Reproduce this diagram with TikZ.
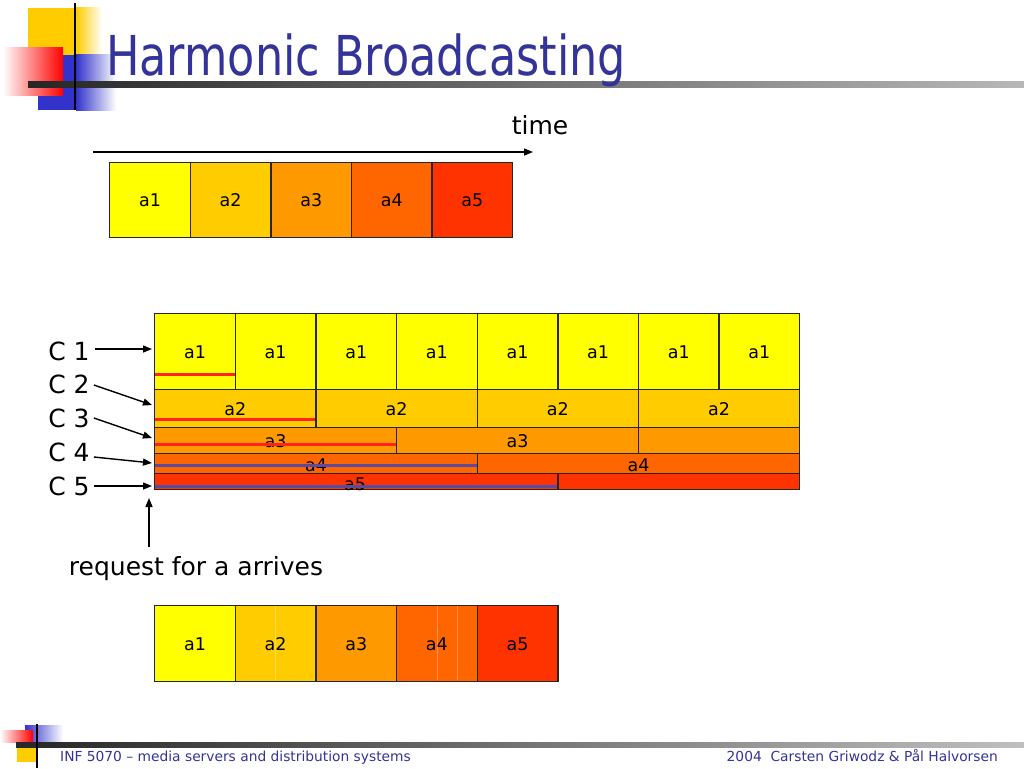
\documentclass[tikz,border=0pt]{standalone}
\usepackage{fontspec}
\setmainfont{DejaVu Sans}
\newfontfamily\titlefont{DejaVu Sans Condensed}
\usetikzlibrary{arrows.meta}
\definecolor{cA}{HTML}{FFFF00}
\definecolor{cB}{HTML}{FFCC00}
\definecolor{cC}{HTML}{FF9900}
\definecolor{cD}{HTML}{FF6600}
\definecolor{cE}{HTML}{FF3300}
\definecolor{titleblue}{HTML}{333399}
\definecolor{logoyellow}{HTML}{FFCC00}
\definecolor{logoblue}{HTML}{3333CC}
\definecolor{redline}{HTML}{FF2222}
\definecolor{blueline}{HTML}{5A4AA0}
\begin{document}
\begin{tikzpicture}[x=1pt,y=-1pt,
  cell/.style={draw=black!85,line width=1.4pt,inner sep=0pt,anchor=north west},
  lab/.style={font=\fontsize{17.5}{20}\selectfont,inner sep=0pt,text height=13pt,text depth=0pt},
  big/.style={font=\fontsize{25}{30}\selectfont,inner sep=0pt},
  arr/.style={line width=1.4pt,-{Triangle[length=9pt,width=7pt]}},
  playline/.style={line width=3.5pt}]
\useasboundingbox (0,0) rectangle (1024,768);
% ---- header logo ----
\fill[logoyellow] (28,8) rectangle (76,55);
\shade[left color=logoyellow,right color=white] (76,8) rectangle (102,55);
\fill[logoblue] (38,55) rectangle (76,110);
\shade[left color=logoblue,right color=white] (76,55) rectangle (116,110);
\shade[left color=white,right color=red] (3,48) rectangle (63,95);
\shade[left color=black!85,right color=black!28] (28,81) rectangle (1024,87);
\draw[line width=2.5pt] (75,3) -- (75,110);
\node[anchor=base west,inner sep=0pt,text=titleblue,font=\titlefont\fontsize{55}{62}\selectfont] (title) at (106,75) {\scalebox{0.9}[1]{Harmonic Broadcasting}};
% ---- time axis ----
\coordinate (t0) at (93,152);
\coordinate (t1) at (533,152);
\draw[arr] (t0) -- (t1);
\node[big] (time) at (540,125) {time};
% ---- top row ----
\foreach \i/\c in {1/cA,2/cB,3/cC,4/cD,5/cE}{
  \node[cell,fill=\c,minimum width=80.6pt,minimum height=75pt,label={[lab]center:a\i}] (top\i) at ({109+80.6*(\i-1)},162) {};
}
% ---- channel grid ----
\foreach \i in {1,...,8}{
  \node[cell,fill=cA,minimum width=80.625pt,minimum height=76pt,label={[lab]center:a1}] (g1\i) at ({154+80.625*(\i-1)},313) {};
}
\foreach \i in {1,...,4}{
  \node[cell,fill=cB,minimum width=161.25pt,minimum height=38pt,label={[lab]center:a2}] (g2\i) at ({154+161.25*(\i-1)},389) {};
}
\node[cell,fill=cC,minimum width=241.875pt,minimum height=26pt,label={[lab]center:a3}] (g31) at (154,427) {};
\node[cell,fill=cC,minimum width=241.875pt,minimum height=26pt,label={[lab]center:a3}] (g32) at (395.875,427) {};
\node[cell,fill=cC,minimum width=161.25pt,minimum height=26pt] (g33) at (637.75,427) {};
\node[cell,fill=cD,minimum width=322.5pt,minimum height=20pt,label={[lab,yshift=-1pt]center:a4}] (g41) at (154,453) {};
\node[cell,fill=cD,minimum width=322.5pt,minimum height=20pt,label={[lab,yshift=-1pt]center:a4}] (g42) at (476.5,453) {};
\node[cell,fill=cE,minimum width=403.125pt,minimum height=16pt] (g51) at (154,473) {};
\node[cell,fill=cE,minimum width=241.875pt,minimum height=16pt] (g52) at (557.125,473) {};
\node[lab] (g5lab) at (355,484) {a5};
% play-out lines
\draw[playline,redline] (g11.south west)++(1,-16) -- ++(79.6,0);
\draw[playline,redline] (g21.south west)++(1,-9) -- ++(160,0);
\draw[playline,redline] (g31.south west)++(1,-10) -- ++(241,0);
\draw[playline,blueline] (g41.south west)++(1,-9) -- ++(321.5,0);
\draw[playline,blueline] (g51.south west)++(1,-4) -- ++(402,0);
% ---- channel labels ----
\node[big] (C1) at (69,351) {C 1};
\node[big] (C2) at (69,384) {C 2};
\node[big] (C3) at (69,418) {C 3};
\node[big] (C4) at (69,452) {C 4};
\node[big] (C5) at (69,486) {C 5};
\coordinate (e1) at (152,349);
\coordinate (e2) at (152,405);
\coordinate (e3) at (152,438);
\coordinate (e4) at (152,463);
\coordinate (e5) at (152,486);
\draw[arr] (C1.east)++(5,-2) -- (e1);
\draw[arr] (C2.east)++(4,1) -- (e2);
\draw[arr] (C3.east)++(4,0) -- (e3);
\draw[arr] (C4.east)++(4,5) -- (e4);
\draw[arr] (C5.east)++(4,0) -- (e5);
% ---- request ----
\node[big] (req) at (196,569) {request for a arrives};
\coordinate (r1) at (149,498);
\draw[arr] (req.north -| r1)++(0,-10) -- (r1);
% ---- bottom row ----
\foreach \i/\c in {1/cA,2/cB,3/cC,4/cD,5/cE}{
  \node[cell,fill=\c,minimum width=80.625pt,minimum height=76pt,label={[lab]center:a\i}] (bot\i) at ({154+80.625*(\i-1)},605) {};
}
\draw[white,opacity=0.3,line width=0.6pt] (275,606) -- (275,680);
\draw[white,opacity=0.3,line width=0.6pt] (437,606) -- (437,680);
\draw[white,opacity=0.3,line width=0.6pt] (457,606) -- (457,680);
% ---- footer ----
\shade[left color=logoblue,right color=white] (25,725) rectangle (63,742);
\shade[left color=white,right color=red] (0,730) rectangle (33,742);
\fill[logoyellow] (17,748) rectangle (37,762);
\shade[left color=black!85,right color=black!25] (16,742) rectangle (1024,747);
\draw[line width=1.5pt] (37,724) -- (37,768);
\node[anchor=base west,inner sep=0pt,text=titleblue,font=\fontsize{13.8}{16}\selectfont] (foot1) at (60,761) {INF 5070 -- media servers and distribution systems};
\node[anchor=base east,inner sep=0pt,text=titleblue,font=\fontsize{13.8}{16}\selectfont] (foot2) at (998,761) {2004\ \ Carsten Griwodz \& Pål Halvorsen};
\end{tikzpicture}
\end{document}
